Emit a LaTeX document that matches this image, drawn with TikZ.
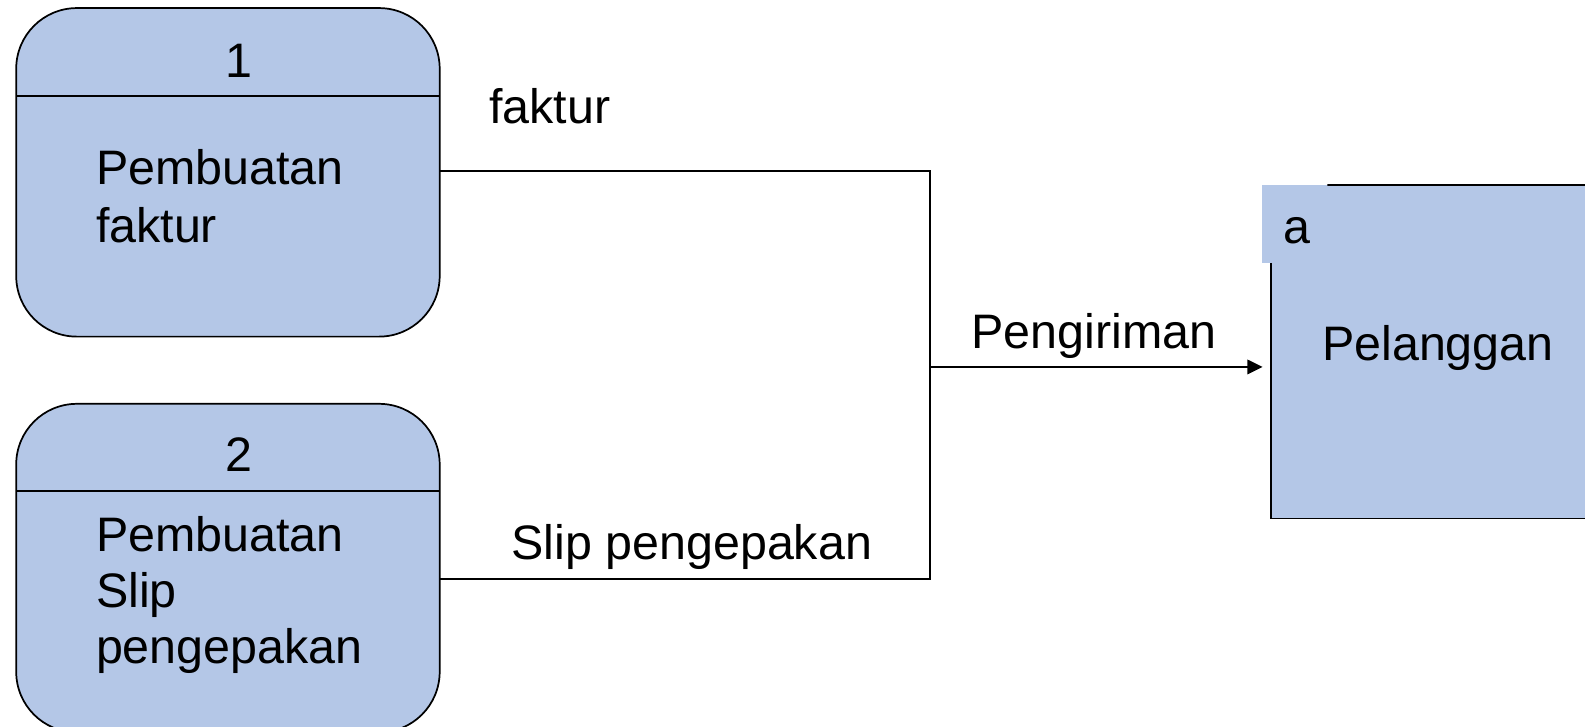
\documentclass[tikz,border=0pt]{standalone}
\usepackage{fontspec}
\setmainfont{Liberation Sans}
\usetikzlibrary{arrows.meta}
\definecolor{procfill}{RGB}{180,199,231}
\begin{document}
\begin{tikzpicture}[x=0.7581pt,y=-0.7581pt,
  proc/.style={draw=black,line width=1.3pt,fill=procfill,rounded corners=45.5pt,
    minimum width=317.6pt,minimum height=246.4pt,inner sep=0pt,outer sep=0pt},
  txt/.style={inner sep=0pt,outer sep=0pt,font=\fontsize{36.3pt}{42pt}\selectfont},
  flow/.style={draw=black,line width=1.1pt},
  arr/.style={flow,-{Triangle[length=11.5pt,width=11pt]},shorten >=6pt}]
\useasboundingbox (0,0) rectangle (1568,719.2);
% processes
\node[proc] (p1) at (225.5,170.5) {};
\node[proc] (p2) at (225.5,562) {};
\draw[line width=1.3pt] (p1.west |- 0,95) -- (p1.east |- 0,95);
\draw[line width=1.3pt] (p2.west |- 0,486) -- (p2.east |- 0,486);
\node[txt,anchor=base] (n1) at (236,77) {1};
\node[txt,anchor=base west] (t1a) at (95,183) {Pembuatan};
\node[txt,anchor=base west] (t1b) at (95,240) {faktur};
\node[txt,anchor=base] (n2) at (236,466) {2};
\node[txt,anchor=base west] (t2a) at (95,546) {Pembuatan};
\node[txt,anchor=base west] (t2b) at (95,601) {Slip};
\node[txt,anchor=base west] (t2c) at (95,656) {pengepakan};
% external entity
\node[fill=procfill,minimum width=275.2pt,minimum height=250.2pt,inner sep=0pt,outer sep=0pt] (ext) at (1438.5,348) {};
\fill[procfill] (1248,183) rectangle (1313,260);
\draw[line width=1.3pt] (1313,183) -- (ext.north east);
\draw[line width=1.3pt] (ext.west |- 0,260) -- (ext.south west) -- (ext.south east);
\node[txt,anchor=base west] (ea) at (1270,241) {a};
\node[txt,anchor=base west] (en) at (1308,357) {Pelanggan};
% connectors
\coordinate (j1) at (920,169);
\coordinate (j) at (920,363);
\coordinate (j2) at (920,573);
\draw[flow] (p1.east |- j1) -- (j1) -- (j2) -- (p2.east |- j2);
\draw[arr] (j) -- (ext.west |- j);
\node[txt,anchor=base west] (lf) at (484,122) {faktur};
\node[txt,anchor=base west] (lp) at (961,345) {Pengiriman};
\node[txt,anchor=base west] (ls) at (506,553) {Slip pengepakan};
\end{tikzpicture}
\end{document}
